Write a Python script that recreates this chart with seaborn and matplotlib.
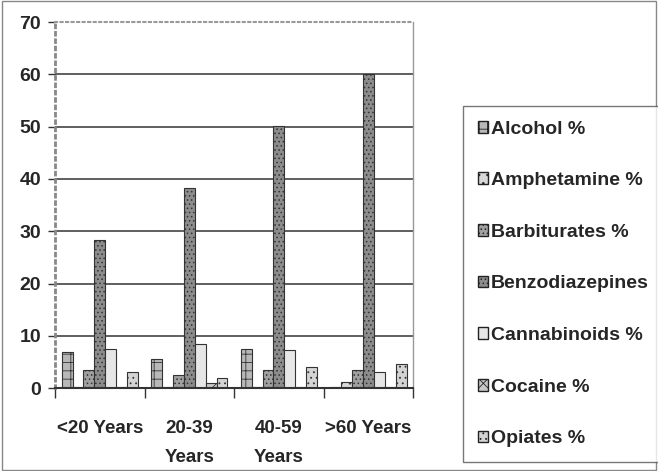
import pandas as pd
import seaborn as sns
import matplotlib.pyplot as plt
from matplotlib.patches import Rectangle

# Data (percent of cases per age group)
age_groups = ['<20 Years', '20-39\nYears', '40-59\nYears', '>60 Years']
drugs = ['Alcohol %', 'Amphetamine %', 'Barbiturates %', 'Benzodiazepines',
         'Cannabinoids %', 'Cocaine %', 'Opiates %']
alcohol = [7.0, 5.5, 7.5, 0.2]
amphetamine = [0.3, 0.3, 0.3, 1.2]
barbiturates = [3.5, 2.5, 3.4, 3.5]
benzodiazepines = [28.3, 38.3, 50.2, 60.0]
cannabinoids = [7.4, 8.5, 7.2, 3.0]
cocaine = [0.2, 1.0, 0.2, 0.2]
opiates = [3.0, 2.0, 4.0, 4.7]

series = [alcohol, amphetamine, barbiturates, benzodiazepines,
          cannabinoids, cocaine, opiates]
rows = []
for drug, vals in zip(drugs, series):
    for age, v in zip(age_groups, vals):
        rows.append({'age': age, 'drug': drug, 'value': v})
df = pd.DataFrame(rows)

colors = ['#b8b8b8', '#d8d8d8', '#a0a0a0', '#8c8c8c', '#e6e6e6', '#c8c8c8', '#d4d4d4']
hatches = ['++', '..', '....', '....', '', 'xx', '...']

sns.set_style('white')
plt.rcParams['font.family'] = ['Liberation Sans', 'DejaVu Sans']
plt.rcParams['hatch.color'] = '#555555'
plt.rcParams['hatch.linewidth'] = 0.6

fig = plt.figure(figsize=(6.58, 4.71), dpi=100)
ax = fig.add_axes([0.0836, 0.176, 0.5445, 0.777])

sns.barplot(data=df, x='age', y='value', hue='drug', palette=colors,
            width=0.85, edgecolor='#333333', linewidth=0.8, legend=False, ax=ax)

for cont, h in zip(ax.containers, hatches):
    for bar in cont:
        bar.set_hatch(h)

ax.set_ylim(0, 70)
ax.set_xlim(-0.5, 3.5)
ax.set_yticks(range(0, 71, 10))
ax.set_xlabel('')
ax.set_ylabel('')
for y in range(10, 70, 10):
    ax.axhline(y, color='#444444', linewidth=1.2, zorder=0)

ax.set_xticks([-0.5, 0.5, 1.5, 2.5, 3.5], minor=True)
ax.tick_params(axis='x', which='minor', length=7, color='#333333', width=1)
ax.tick_params(axis='x', which='major', length=0, labelsize=13.5, pad=23)
ax.tick_params(axis='y', length=5, color='#333333', width=1, labelsize=14, pad=5, direction='out')
ax.yaxis.set_ticks_position('left')
ax.xaxis.set_ticks_position('bottom')

for lab in ax.get_yticklabels() + ax.get_xticklabels():
    lab.set_fontweight('bold')
for lab in ax.get_xticklabels():
    lab.set_linespacing(1.9)
    lab.set_verticalalignment('top')

ax.spines['left'].set_color('#888888')
ax.spines['left'].set_linestyle(':')
ax.spines['left'].set_linewidth(2)
ax.spines['top'].set_color('#999999')
ax.spines['top'].set_linestyle(':')
ax.spines['top'].set_linewidth(1.5)
ax.spines['right'].set_color('#999999')
ax.spines['right'].set_linewidth(1)
ax.spines['bottom'].set_color('#333333')
ax.spines['bottom'].set_linewidth(1.5)

handles = [Rectangle((0, 0), 1, 1, facecolor=c, edgecolor='#222222', hatch=h, linewidth=1)
           for c, h in zip(colors, hatches)]
leg = fig.legend(handles, drugs, loc='upper left',
                 bbox_to_anchor=(463 / 658, 1 - 106 / 471),
                 frameon=True, fancybox=False, edgecolor='#555555',
                 fontsize=14, labelspacing=1.78, handlelength=0.55, handleheight=0.55,
                 handletextpad=0.12, borderpad=0.75, borderaxespad=0)
leg.get_frame().set_linewidth(1)
for t in leg.get_texts():
    t.set_fontweight('bold')

fig.patches.append(Rectangle((0.003, 0.003), 0.994, 0.994, transform=fig.transFigure,
                             fill=False, edgecolor='#888888', linewidth=1))

fig.savefig('out.png', dpi=100)
